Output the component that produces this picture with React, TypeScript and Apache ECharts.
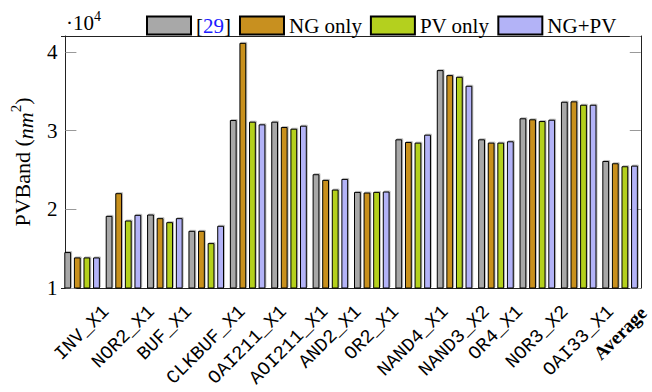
import React, { useEffect, useRef } from "react";
import * as echarts from "echarts";

const categories = [
  "INV_X1", "NOR2_X1", "BUF_X1", "CLKBUF_X1", "OAI211_X1", "AOI211_X1", "AND2_X1",
  "OR2_X1", "NAND4_X1", "NAND3_X2", "OR4_X1", "NOR3_X2", "OAI33_X1", "Average",
];
const ref29 = [14560, 19160, 19330, 17260, 31330, 31120, 24450, 22200, 28880, 37670, 28880, 31550, 33650, 26130];
const ngOnly = [13880, 22040, 18870, 17260, 41130, 30440, 23730, 22120, 28540, 37030, 28460, 31420, 33700, 25840];
const pvOnly = [13880, 18570, 18360, 15700, 31120, 30230, 22500, 22200, 28460, 36820, 28460, 31200, 33270, 25460];
const ngPv = [13880, 19290, 18870, 17900, 30780, 30610, 23850, 22250, 29470, 35680, 28630, 31370, 33270, 25540];
const seriesNames = ["[29]", "NG only", "PV only", "NG+PV"];
const seriesColors = ["#a8a8a8", "#c8901f", "#b4d01e", "#b3b3f7"];

const SERIF = "Liberation Serif";
const MONO = "Liberation Mono";
const LABEL_SIZE = 19;

// rich styles that hang each rotated label from its top (longer labels sit lower)
const labelRich: Record<string, any> = {
  avg: { fontFamily: SERIF, fontSize: 19, fontWeight: "bold", color: "#000" },
};
for (let n = 4; n <= 12; n++) {
  const p = Math.max(0, 0.5 * LABEL_SIZE * 0.6 * (n - 6));
  labelRich["m" + n] = {
    fontFamily: MONO,
    fontSize: LABEL_SIZE,
    color: "#000",
    padding: [p, p, 0, 0],
  };
}

export default function App() {
  const ref = useRef<HTMLDivElement>(null);
  useEffect(() => {
    document.body.style.margin = "0";
    if (!ref.current) return;
    const chart = echarts.init(ref.current, null, { renderer: "svg" });
    const values = [ref29, ngOnly, pvOnly, ngPv];
    const axisColor = "#222";
    const tickColor = "#999";
    chart.setOption({
      animation: false,
      backgroundColor: "#fff",
      textStyle: { fontFamily: SERIF, color: "#000" },
      grid: { left: 58, right: 6, top: 36, bottom: 104 },
      legend: {
        left: 141,
        top: 10,
        icon: "rect",
        itemWidth: 44,
        itemHeight: 18,
        itemGap: 8,
        data: seriesNames,
        textStyle: {
          fontFamily: SERIF,
          fontSize: 21,
          color: "#000",
          rich: { b: { color: "#1a1aff", fontFamily: SERIF, fontSize: 21 } },
        },
        formatter: (n: string) => (n === "[29]" ? "[{b|29}]" : n),
      },
      graphic: [
        {
          type: "text",
          left: 66,
          top: 9,
          style: {
            text: "{a|·10}{s|4}",
            rich: {
              a: { fontFamily: SERIF, fontSize: 21, fill: "#000", lineHeight: 24, verticalAlign: "bottom" },
              s: { fontFamily: SERIF, fontSize: 14, fill: "#000", lineHeight: 14, verticalAlign: "top" },
            },
          },
        },
      ],
      xAxis: [
        {
          type: "category",
          data: categories,
          position: "bottom",
          boundaryGap: true,
          axisLine: { lineStyle: { color: axisColor, width: 1 } },
          axisTick: { inside: true, length: 11, alignWithLabel: true, lineStyle: { color: "#777" } },
          axisLabel: {
            interval: 0,
            rotate: 45,
            align: "center",
            verticalAlign: "middle",
            margin: 45,
            fontFamily: MONO,
            fontSize: LABEL_SIZE,
            color: "#000",
            formatter: (v: string) =>
              v === "Average" ? "{avg|Average}" : "{m" + Math.min(12, Math.max(4, v.length)) + "|" + v + "}",
            rich: labelRich,
          },
          splitLine: { show: false },
        },
        {
          type: "category",
          data: categories,
          position: "top",
          boundaryGap: true,
          axisLine: { lineStyle: { color: axisColor, width: 1 } },
          axisTick: { inside: true, length: 11, alignWithLabel: true, lineStyle: { color: tickColor } },
          axisLabel: { show: false },
          splitLine: { show: false },
        },
      ],
      yAxis: [
        {
          type: "value",
          min: 10000,
          max: 42000,
          interval: 10000,
          offset: -4,
          position: "left",
          name: "PVBand ({i|nm}{s|2})",
          nameLocation: "middle",
          nameGap: 28,
          nameRotate: 90,
          nameTextStyle: {
            fontFamily: SERIF,
            fontSize: 22,
            color: "#000",
            rich: {
              i: { fontFamily: SERIF, fontStyle: "italic", fontSize: 22, lineHeight: 28, verticalAlign: "bottom" },
              s: { fontFamily: SERIF, fontSize: 15, lineHeight: 15, verticalAlign: "top" },
            },
          },
          axisLine: { show: true, lineStyle: { color: axisColor, width: 1 } },
          axisTick: { show: true, inside: true, length: 11, lineStyle: { color: tickColor } },
          axisLabel: {
            margin: 8,
            fontFamily: SERIF,
            fontSize: 21,
            color: "#000",
            formatter: (v: number) => String(Math.round(v / 10000)),
          },
          splitLine: { show: false },
        },
        {
          type: "value",
          min: 10000,
          max: 42000,
          interval: 10000,
          position: "right",
          axisLine: { show: true, lineStyle: { color: axisColor, width: 1 } },
          axisTick: { show: true, inside: true, length: 11, lineStyle: { color: tickColor } },
          axisLabel: { show: false },
          splitLine: { show: false },
        },
      ],
      series: seriesNames.map((name, k) => ({
        name,
        type: "bar",
        xAxisIndex: 0,
        yAxisIndex: 0,
        data: values[k],
        barWidth: 6.8,
        barGap: "41%",
        itemStyle: {
          color: seriesColors[k],
          borderColor: "#000",
          borderWidth: 1,
          shadowColor: "rgba(0,0,0,0.25)",
          shadowOffsetX: 1,
          shadowOffsetY: -1,
          shadowBlur: 0,
        },
      })),
    });
    return () => chart.dispose();
  }, []);
  return <div ref={ref} style={{ width: 652, height: 392 }} />;
}
